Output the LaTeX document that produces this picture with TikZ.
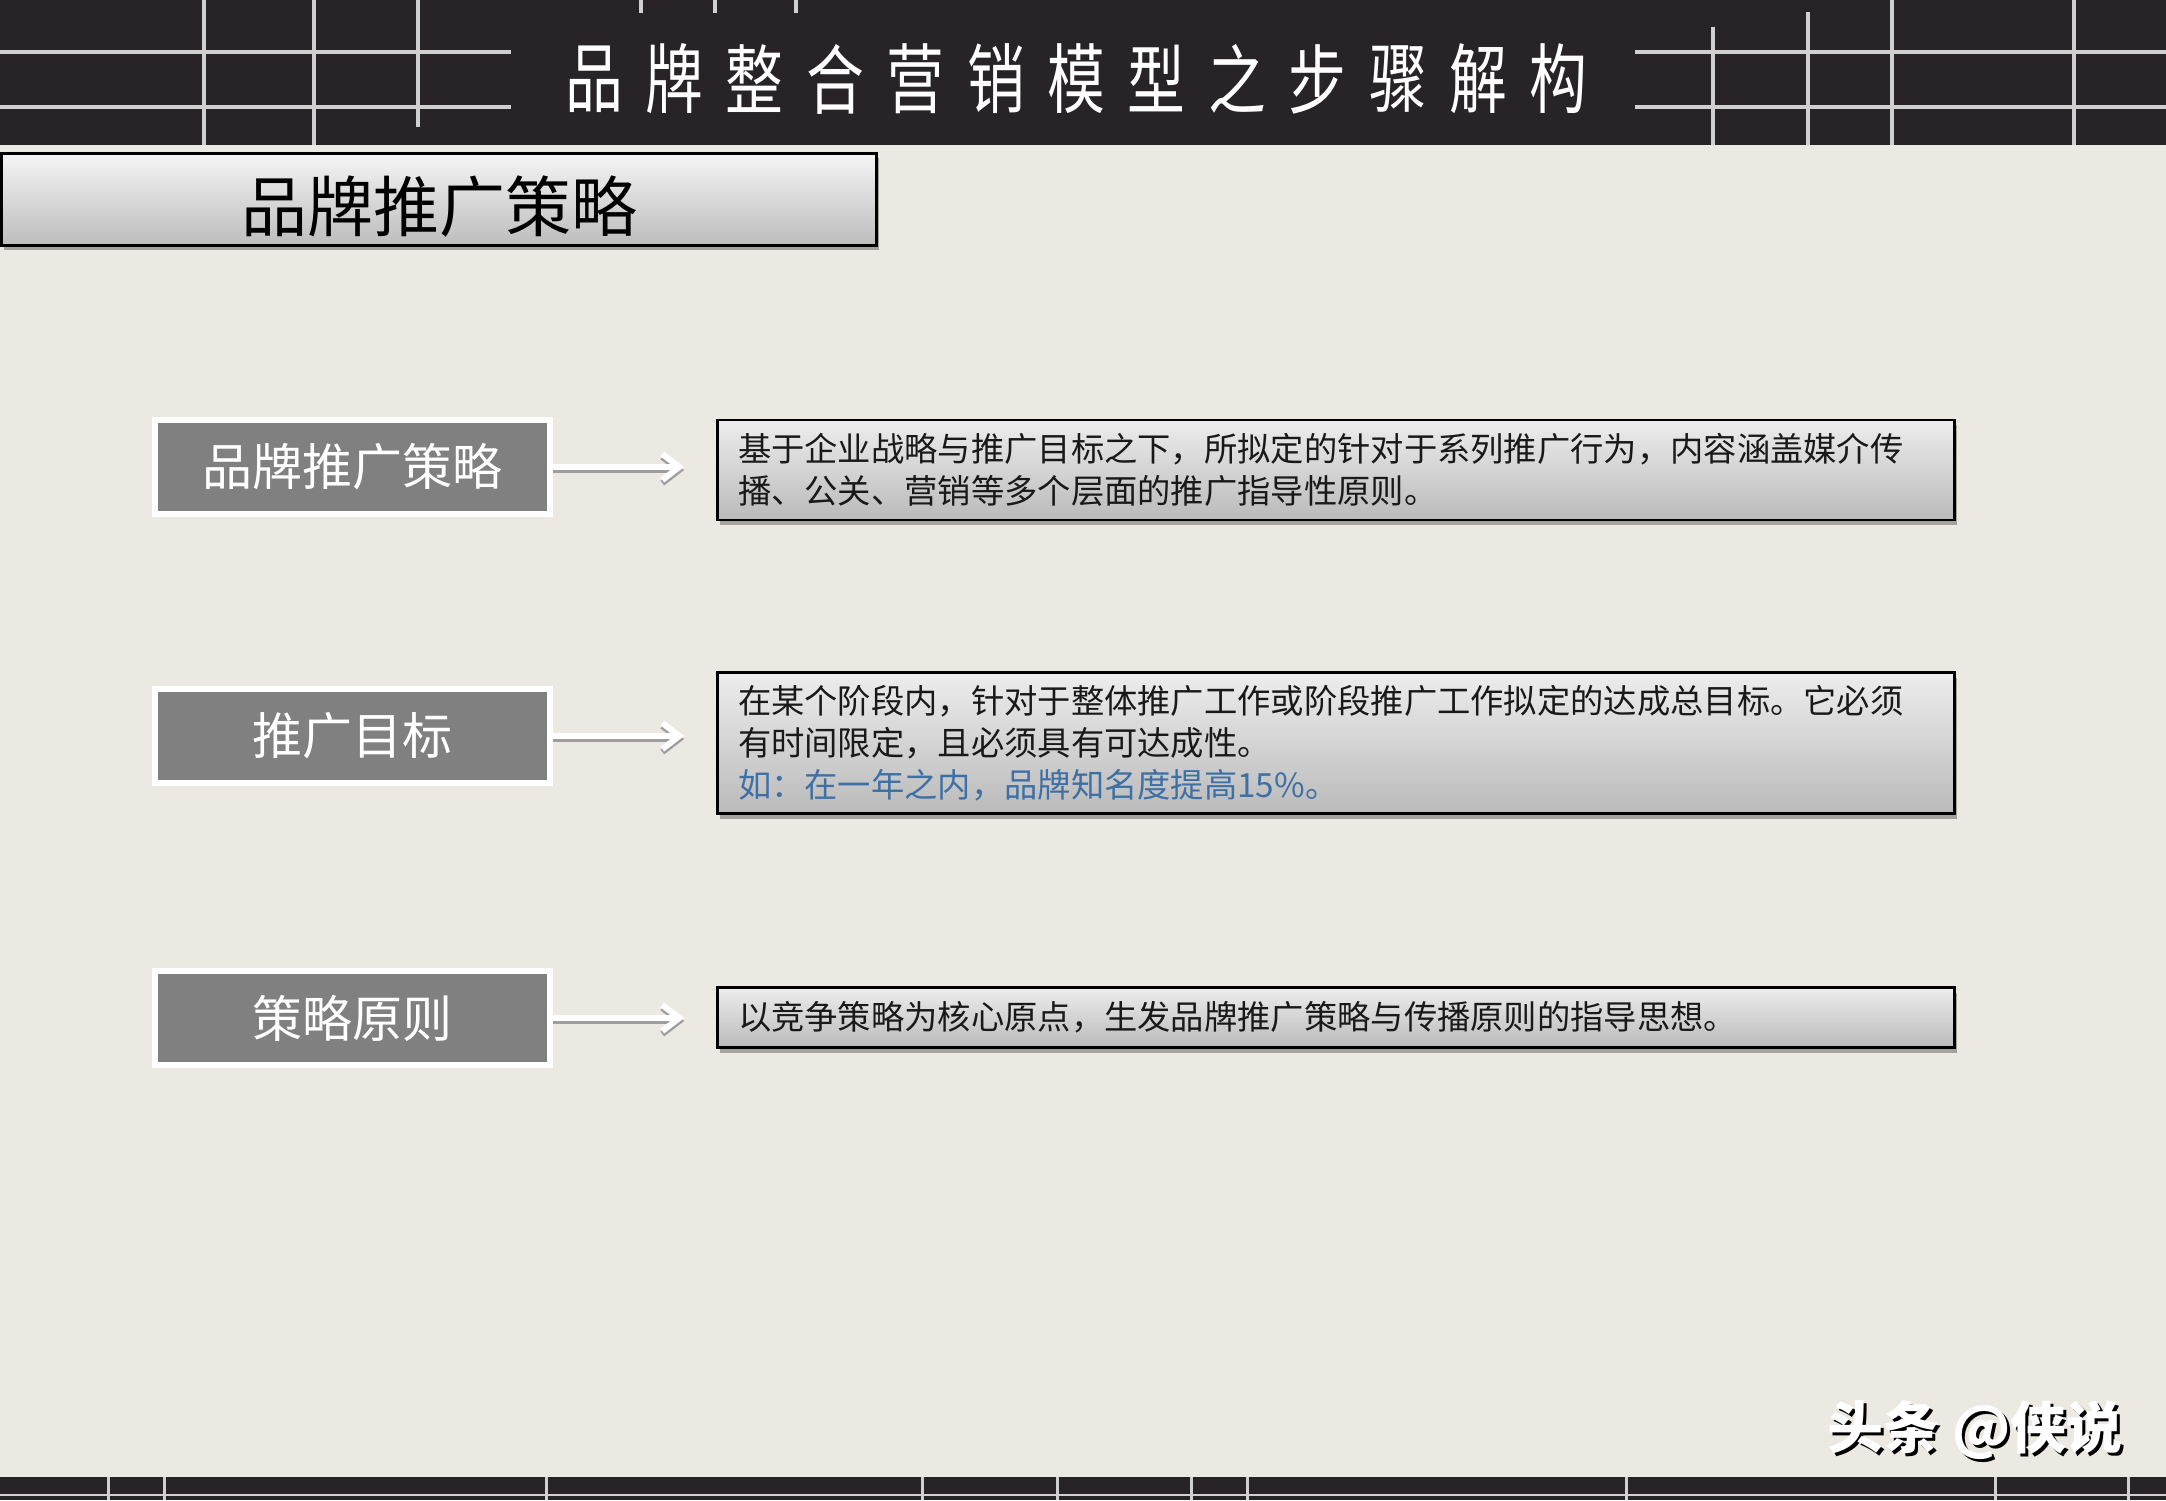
\documentclass[tikz,border=0pt]{standalone}
\usepackage{fontspec}
\setmainfont{Noto Sans CJK SC}
\usepackage{tikz}
\usetikzlibrary{arrows.meta}
\usetikzlibrary{shadows}
\definecolor{bgbeige}{RGB}{236,233,226}
\definecolor{bandgray}{RGB}{39,35,38}
\definecolor{gridline}{RGB}{208,208,208}
\definecolor{keygray}{RGB}{128,128,128}
\definecolor{noteblue}{RGB}{62,112,165}
\tikzset{titlechar/.style={text=white, inner sep=0pt, font=\fontsize{76}{80}\selectfont, xscale=0.76, transform shape}}
\tikzset{subhead/.style={rectangle, draw=black, line width=3pt, top color=white!96!black, bottom color=black!26, minimum width=875pt, minimum height=92pt, text height=66pt, text depth=2pt, font=\fontsize{66}{70}\selectfont, drop shadow={shadow xshift=2pt, shadow yshift=-4pt, fill=black, opacity=0.3}}}
\tikzset{keybox/.style={rectangle, fill=keygray, draw=white, line width=6pt, minimum width=395pt, minimum height=94pt, text=white, font=\fontsize{50}{54}\selectfont}}
\tikzset{descbox/.style={rectangle, draw=black, line width=2.5pt, top color=white!93!black, bottom color=black!27, minimum width=1237pt, text width=1196pt, inner xsep=20pt, align=left, text=black!90, font=\fontsize{33.3}{42}\selectfont, drop shadow={shadow xshift=2pt, shadow yshift=-5pt, fill=black, opacity=0.3}}}
\tikzset{flow/.style={draw=white, line width=6pt, -{Straight Barb[length=17pt,width=26pt]}, shorten >=32pt}, flowshadow/.style={flow, draw=black!38, transform canvas={yshift=-3pt}}}
\tikzset{wmtext/.style={inner sep=0pt, font=\fontsize{56}{60}\selectfont\bfseries}}

\begin{document}
\begin{tikzpicture}[x=1pt,y=-1pt]
\fill[bgbeige] (0,0) rectangle (2166,1500);
\useasboundingbox (0,0) rectangle (2166,1500);

\fill[bandgray] (0,0) rectangle (2166,145);
\draw[gridline, line width=4pt] (0,52) -- (511,52) (0,107) -- (511,107) (1635,52) -- (2166,52) (1635,107) -- (2166,107);
\draw[gridline, line width=4pt] (204,0) -- (204,145) (314,0) -- (314,145) (418,0) -- (418,127);
\draw[gridline, line width=4pt] (641,0) -- (641,13) (715,0) -- (715,13) (796,0) -- (796,13);
\draw[gridline, line width=4pt] (1713,27) -- (1713,145) (1808,12) -- (1808,145) (1892,0) -- (1892,145) (2074,0) -- (2074,145);
\foreach \ch [count=\i from 0] in {品,牌,整,合,营,销,模,型,之,步,骤,解,构}
  \node[titlechar] (title\i) at (594+80.4*\i,79) {\ch};

\node[subhead] (sub) at (439,199.5) {品牌推广策略};

\node[keybox] (keyA) at (352,467) {品牌推广策略};
\node[keybox] (keyB) at (352,736) {推广目标};
\node[keybox] (keyC) at (352,1018) {策略原则};

\node[descbox, minimum height=100pt] (descA) at (1336,470) {基于企业战略与推广目标之下，所拟定的针对于系列推广行为，内容涵盖媒介传\\播、公关、营销等多个层面的推广指导性原则。};
\node[descbox, minimum height=141pt] (descB) at (1336,743) {在某个阶段内，针对于整体推广工作或阶段推广工作拟定的达成总目标。它必须\\有时间限定，且必须具有可达成性。\\\textcolor{noteblue}{如：在一年之内，品牌知名度提高15\%。}};
\node[descbox, minimum height=60pt] (descC) at (1336,1017.5) {以竞争策略为核心原点，生发品牌推广策略与传播原则的指导思想。};

\foreach \k in {A,B,C} {
  \draw[flowshadow] (key\k.east) -- (key\k.east -| desc\k.west);
  \draw[flow] (key\k.east) -- (key\k.east -| desc\k.west);
}

\node[wmtext, text=black] (wmshade) at (1978,1433) {头条 @侠说};
\node[wmtext, text=white] (wm) at (1975,1430) {头条 @侠说};

\fill[bandgray] (0,1477) rectangle (2166,1500);
\draw[gridline, line width=2pt] (0,1495) -- (2166,1495);
\foreach \x in {108,164,546,922,1057,1191,1247,1626,1995,2128}
  \draw[gridline, line width=3pt] (\x,1477) -- (\x,1500);
\end{tikzpicture}
\end{document}
